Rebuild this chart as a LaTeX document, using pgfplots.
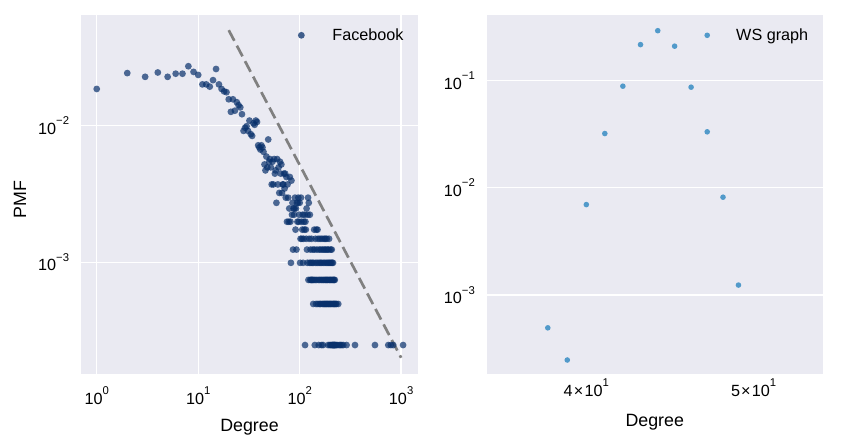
\documentclass[border=0pt]{standalone}
\usepackage{fontspec}
\setmainfont{Liberation Sans}
\usepackage{pgfplots}
\pgfplotsset{compat=1.18}
\usepackage{pgfplotstable}
\definecolor{bgcol}{HTML}{EAEAF2}
\definecolor{fbcol}{HTML}{08306B}
\definecolor{wscol}{HTML}{4292C6}
\definecolor{dashcol}{HTML}{808080}
\newcommand\tsup[1]{\raisebox{0.6em}{\fontsize{11.3}{12}\selectfont #1}}
\newcommand\tickfont{\fontsize{16.2}{19}\selectfont}
\newcommand\labfont{\fontsize{17.8}{21}\selectfont}

\pgfplotstableread{
k n
1 75
2 98
3 92
4 99
5 92
6 97
7 97
8 110
9 100
10 95
11 81
12 81
13 78
14 87
15 105
16 81
17 75
18 72
19 71
20 63
21 51
22 63
23 52
24 60
25 57
26 55
27 49
28 37
29 39
30 40
31 37
32 44
33 35
34 34
35 42
36 41
37 44
38 43
39 29
40 28
41 27
42 29
43 28
44 26
45 21
46 19
47 24
48 20
49 32
50 22
51 23
52 20
53 15
54 22
55 15
56 23
57 18
58 19
59 11
60 23
61 15
62 20
63 13
64 22
65 18
66 21
67 13
68 15
69 15
70 18
71 14
72 18
73 12
74 17
75 8
76 15
77 12
78 8
79 10
80 17
81 8
82 4
83 16
84 9
85 11
86 5
87 10
88 9
89 10
90 12
91 7
92 10
93 5
94 11
95 8
96 11
97 12
98 8
99 9
100 11
101 4
102 6
103 12
104 8
105 6
106 7
107 9
108 4
109 6
110 8
111 7
112 9
113 1
114 8
115 7
116 6
117 10
118 5
119 4
120 9
121 12
122 3
123 11
124 6
125 4
126 9
127 3
128 5
129 4
130 3
131 6
132 3
133 4
134 3
135 5
136 2
137 4
138 3
139 7
140 5
141 1
142 3
143 6
144 4
145 2
146 7
147 3
148 5
149 4
150 7
151 2
152 6
153 3
154 1
155 4
156 5
157 2
158 3
159 6
160 4
161 2
162 5
163 3
164 1
165 4
166 6
167 2
168 3
169 5
170 1
171 4
172 2
173 3
174 6
175 5
176 2
177 4
178 3
179 6
180 2
181 5
182 3
183 4
184 2
185 6
186 3
187 5
188 2
189 4
190 3
191 1
192 2
193 5
194 4
195 6
196 3
197 2
198 1
199 4
200 3
201 2
202 5
203 1
204 4
205 3
206 2
207 5
208 1
209 4
210 3
211 1
212 2
213 4
214 1
215 3
216 1
217 2
218 3
219 1
220 2
221 1
222 3
224 1
226 2
228 1
230 2
234 1
240 2
245 1
252 1
260 1
269 1
290 1
351 1
552 1
747 1
792 1
836 1
1045 1
}\fbdata

\pgfplotsset{
  sbstyle/.style={
    scale only axis, anchor=south west,
    axis background/.style={fill=bgcol},
    axis line style={draw=none},
    major tick length=0pt, minor tick length=0pt,
    grid style={white, line width=1.3pt},
    tick label style={font=\tickfont, inner sep=0pt},
    label style={font=\labfont, inner sep=0pt},
    legend style={draw=none, fill=none, font=\tickfont, inner sep=0pt, outer sep=0pt,
      nodes={inner sep=0pt}, at={(axis description cs:1,1)}, anchor=east},
    legend cell align=left,
  }
}

\begin{document}
\begin{tikzpicture}
\useasboundingbox (0,0) rectangle (846pt,447pt);
\begin{axis}[sbstyle, at={(81pt,73pt)}, width=337pt, height=359pt,
  xmode=log, ymode=log, xmin=0.70, xmax=1466, ymin=1.52e-4, ymax=0.0646,
  xtick={1,10,100,1000}, xticklabels={10\tsup{0},10\tsup{1},10\tsup{2},10\tsup{3}},
  ytick={0.001,0.01}, yticklabels={10\tsup{−3},10\tsup{−2}},
  xmajorgrids, ymajorgrids,
  xticklabel style={anchor=north, yshift=-12.7pt},
  yticklabel style={anchor=east, xshift=-11.7pt},
  xlabel={Degree}, ylabel={PMF},
  xlabel style={at={(axis description cs:0.5,0)}, anchor=base, yshift=-57pt},
  ylabel style={at={(axis description cs:-0.1632,0.485)}, anchor=base, rotate=0},
  legend style={xshift=-14.5pt, yshift=-20.3pt},
  legend image code/.code={\fill[draw=none, fill=fbcol, fill opacity=0.75] (0pt,0pt) circle (3.4pt); \path[draw=none] (0pt,0pt) -- (31pt,0pt);},
]
\addplot[only marks, mark=*, mark size=3.4pt, color=fbcol,
  mark options={draw=fbcol, fill=fbcol, draw opacity=0, fill opacity=0.7}]
  table[x=k, y expr=\thisrow{n}/4039] {\fbdata};
\addlegendentry{Facebook}
\addplot[dashcol, line width=2.7pt, dash pattern=on 12pt off 5.5pt, forget plot]
  coordinates {(20,0.05) (1000,0.0002)};
\end{axis}

\begin{axis}[sbstyle, at={(486.7pt,73pt)}, width=336pt, height=359pt,
  xmode=log, ymode=log, xmin=35.03, xmax=54.83, ymin=1.837e-4, ymax=0.409,
  xtick={40,50}, xticklabels={4\hspace{1.2pt}×\hspace{1.2pt}10\tsup{1},5\hspace{1.2pt}×\hspace{1.2pt}10\tsup{1}},
  ytick={0.001,0.01,0.1}, yticklabels={10\tsup{−3},10\tsup{−2},10\tsup{−1}},
  xmajorgrids=false, ymajorgrids,
  xticklabel style={anchor=north, yshift=-5pt},
  yticklabel style={anchor=east, xshift=-11.7pt},
  xlabel={Degree},
  xlabel style={at={(axis description cs:0.5,0)}, anchor=base, yshift=-52pt},
  legend style={xshift=-14.5pt, yshift=-20.3pt},
  legend image code/.code={\fill[draw=none, fill=wscol, fill opacity=0.9] (0pt,0pt) circle (2.8pt); \path[draw=none] (0pt,0pt) -- (29pt,0pt);},
]
\addplot[only marks, mark=*, mark size=2.8pt, color=wscol,
  mark options={draw=wscol, fill=wscol, draw opacity=0, fill opacity=0.9}]
  coordinates {(38,4.95e-4) (39,2.48e-4) (40,6.98e-3) (41,0.0321) (42,0.0887) (43,0.2165)
               (44,0.292) (45,0.2094) (46,0.0868) (47,0.0333) (48,0.00818) (49,0.00124)};
\addlegendentry{WS graph}
\end{axis}
\end{tikzpicture}
\end{document}
